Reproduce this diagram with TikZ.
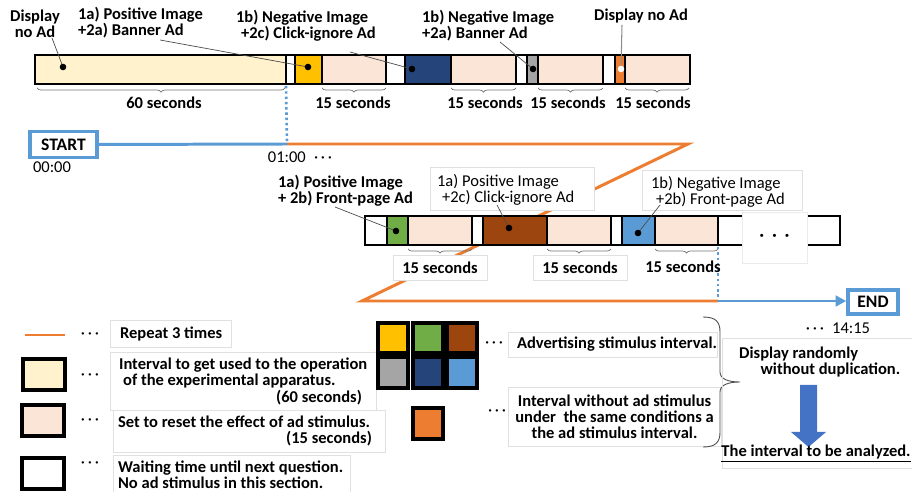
\documentclass[tikz,border=0pt]{standalone}
\usepackage{fontspec}
\setmainfont{Carlito}
\usetikzlibrary{arrows.meta,positioning,decorations.pathreplacing}
\definecolor{cream}{HTML}{FFF2CC}
\definecolor{rest}{HTML}{FBE5D6}
\definecolor{adgold}{HTML}{FFC000}
\definecolor{adnavy}{HTML}{24447A}
\definecolor{adgray}{HTML}{A5A5A5}
\definecolor{adorange}{HTML}{ED7D31}
\definecolor{adgreen}{HTML}{70AD47}
\definecolor{adbrown}{HTML}{9C450E}
\definecolor{adsky}{HTML}{5B9BD5}
\definecolor{tlblue}{HTML}{5B9BD5}
\definecolor{arrblue}{HTML}{4472C4}
\tikzset{
  seg/.style={draw=black, line width=1.6pt},
  swatch/.style={draw=black, line width=2pt},
  lead/.style={draw=black!70, line width=0.4pt},
  brc/.style={draw=black!55, line width=0.4pt, decorate, decoration={brace, mirror, amplitude=2.3pt}},
  lbl/.style={inner sep=1pt, align=left},
  tbox/.style={draw=black!12, fill=white, line width=0.5pt, inner ysep=2pt},
  frame/.style={draw=black!12, fill=white, line width=0.5pt},
  regtext/.style={font=\fontsize{9.4}{9.2}\selectfont\mdseries},
  tlbox/.style={draw=tlblue, line width=2pt, fill=white, inner sep=1pt, font=\fontsize{10}{10}\selectfont\bfseries},
  tline/.style={draw=tlblue, line width=1.7pt},
  rline/.style={draw=adorange, line width=1.7pt},
  tdots/.style={draw=tlblue, line width=1.5pt, dash pattern=on 1.4pt off 1.6pt}
}
\begin{document}
\begin{tikzpicture}[x=0.02cm, y=-0.02cm, font=\fontsize{9.4}{9.2}\selectfont\bfseries]
  \useasboundingbox (0,0) rectangle (912,492);
  % timeline: start, repeat, end
  \node[tlbox, minimum width=1.34cm, minimum height=0.52cm] (startbox) at (63.5,144.5) {START};
  \node[tlbox, minimum width=1cm, minimum height=0.48cm] (endbox) at (873,302) {END};
  \coordinate (c01) at (287,144);
  \coordinate (t60) at (286,86);
  \coordinate (r1) at (688,144);
  \coordinate (r2) at (362,301);
  \coordinate (rend) at (718,301);
  \coordinate (m15) at (718,247);
  \draw[rline] (c01) -- (r1) -- (r2) -- (rend);
  \draw[tline] (startbox.east) -- (c01);
  \draw[tline, -{Triangle[length=6pt,width=6pt]}] (rend) -- (endbox.west |- rend);
  \draw[tdots] (t60) -- (c01);
  \draw[tdots] (m15) -- (rend);
  \node[regtext] (t0) at (52,167) {00:00};
  \node[regtext] (t1) at (300,157) {01:00\enspace·\,·\,·};
  \node[regtext] (t2) at (838,328) {·\,·\,·\enspace14:15};

  % first bar
  \draw[seg, fill=cream] (35,55) rectangle (286,84);
  \draw[seg, fill=white] (286,55) rectangle (295,84);
  \draw[seg, fill=adgold] (295,55) rectangle (322,84);
  \draw[seg, fill=rest] (322,55) rectangle (386,84);
  \draw[seg, fill=white] (386,55) rectangle (405,84);
  \draw[seg, fill=adnavy] (405,55) rectangle (451,84);
  \draw[seg, fill=rest] (451,55) rectangle (516,84);
  \draw[seg, fill=white] (516,55) rectangle (527,84);
  \draw[seg, fill=adgray] (527,55) rectangle (538,84);
  \draw[seg, fill=rest] (538,55) rectangle (603,84);
  \draw[seg, fill=white] (603,55) rectangle (615,84);
  \draw[seg, fill=adorange] (615,55) rectangle (625,84);
  \draw[seg, fill=rest] (625,55) rectangle (690,84);
  \draw[brc] (37,88) -- (285,88);
  \draw[brc] (322,88) -- (386,88);
  \draw[brc] (451,88) -- (516,88);
  \draw[brc] (538,88) -- (603,88);
  \draw[brc] (625,88) -- (689,88);
  \node (s60) at (164,103) {60 seconds};
  \node (s15a) at (353,103) {15 seconds};
  \node (s15b) at (485,103) {15 seconds};
  \node (s15c) at (568,103) {15 seconds};
  \node (s15d) at (653,103) {15 seconds};
  \coordinate (d1) at (63,67);
  \coordinate (d2) at (308,67);
  \coordinate (d3) at (412,69);
  \coordinate (d4) at (533,69);
  \coordinate (d5) at (621,69);
  \node[lbl, align=center] (dispA) at (35,24) {Display\\no Ad};
  \node[lbl, anchor=west] (labPB) at (76,23) {1a) Positive Image\\+2a) Banner Ad};
  \node[lbl, anchor=west] (labNC) at (234,26) {1b) Negative Image\\\hspace*{0.3em}+2c) Click-ignore Ad};
  \node[lbl, anchor=west] (labNB) at (420,26) {1b) Negative Image\\+2a) Banner Ad};
  \node[lbl] (dispB) at (641,16) {Display no Ad};
  \coordinate (l1) at (52,38);
  \coordinate (l2) at (160,40);
  \coordinate (l3) at (350,52);
  \coordinate (l4) at (500,42);
  \coordinate (l5) at (622,25);
  \draw[lead] (l1) -- (d1);
  \draw[lead] (l2) -- (d2);
  \draw[lead] (l3) -- (d3);
  \draw[lead] (l4) -- (d4);
  \draw[draw=black!45, line width=0.6pt] (l5) -- (d5);
  \fill (d1) circle (3.3);
  \fill (d2) circle (3.3);
  \fill (d3) circle (3.3);
  \fill (d4) circle (3.3);
  \fill[white] (d5) circle (3.3);

  % second bar
  \draw[seg, fill=white] (365,216) rectangle (387,245);
  \draw[seg, fill=adgreen] (387,216) rectangle (408,245);
  \draw[seg, fill=rest] (408,216) rectangle (472,245);
  \draw[seg, fill=white] (472,216) rectangle (483,245);
  \draw[seg, fill=adbrown] (483,216) rectangle (547,245);
  \draw[seg, fill=rest] (547,216) rectangle (611,245);
  \draw[seg, fill=white] (611,216) rectangle (622,245);
  \draw[seg, fill=adsky] (622,216) rectangle (655,245);
  \draw[seg, fill=rest] (655,216) rectangle (718,245);
  \draw[seg, fill=white] (718,216) rectangle (840,245);
  \node[tbox, draw=black!8, minimum width=1.3cm, minimum height=1.02cm] (more) at (774.5,237.5) {·\enspace·\enspace·};
  \draw[brc] (408,249) -- (472,249);
  \draw[brc] (547,249) -- (611,249);
  \draw[brc] (655,249) -- (718,249);
  \node[tbox, minimum width=1.88cm, minimum height=0.5cm] (m15a) at (440,267.5) {15 seconds};
  \node[tbox, minimum width=1.88cm, minimum height=0.5cm] (m15b) at (580,267.5) {15 seconds};
  \node (m15c) at (683,267) {15 seconds};
  \coordinate (g1) at (396,231);
  \coordinate (g2) at (509,228);
  \coordinate (g3) at (638,233);
  \node[lbl, anchor=west] (labPF) at (276,191) {1a) Positive Image\\+ 2b) Front-page Ad};
  \draw[frame] (430,167) rectangle (594,210);
  \draw[frame] (642,170) rectangle (802,210);
  \node[lbl, regtext, anchor=north west] (labPC) at (435,172) {1a) Positive Image\\\hspace*{0.3em}+2c) Click-ignore Ad};
  \node[lbl, regtext, anchor=north west] (labNF) at (649,174) {1b) Negative Image\\\hspace*{0.3em}+2b) Front-page Ad};
  \coordinate (k1) at (335,207);
  \coordinate (k2) at (497,205);
  \coordinate (k3) at (660,205);
  \draw[lead] (k1) -- (g1);
  \draw[lead] (k2) -- (g2);
  \draw[lead] (k3) -- (g3);
  \fill (g1) circle (3.3);
  \fill (g2) circle (3.3);
  \fill (g3) circle (3.3);

  % legend
  \draw[rline] (25,335) -- (65,335);
  \draw[swatch, fill=cream] (23,359) rectangle (65,390);
  \draw[swatch, fill=rest] (22,405) rectangle (64,436);
  \draw[swatch, fill=white] (22,458) rectangle (64,489);
  \node[regtext] (e1) at (90,336) {·\,·\,·};
  \node[regtext] (e2) at (90,377) {·\,·\,·};
  \node[regtext] (e3) at (90,422) {·\,·\,·};
  \node[regtext] (e4) at (90,465) {·\,·\,·};
  \draw[frame] (110,320) rectangle (231,347);
  \draw[frame] (110,352) rectangle (376,410);
  \draw[frame] (113,410) rectangle (385,452);
  \draw[frame] (113,455) rectangle (350,497);
  \node[lbl, anchor=west] (lrep) at (118,333.5) {Repeat 3 times};
  \node[lbl, anchor=north west] (lgo) at (117,356) {Interval to get used to the operation\\\hspace*{0.25em}of the experimental apparatus.};
  \node[lbl, anchor=east] (lgo60) at (364,398) {(60 seconds)};
  \node[lbl, anchor=north west] (lrest) at (116,414) {Set to reset the effect of ad stimulus.};
  \node[lbl, anchor=east] (lrest15) at (374,439) {(15 seconds)};
  \node[lbl, anchor=north west] (lwait) at (116,459) {Waiting time until next question.\\No ad stimulus in this section.};
  \draw[swatch, fill=adgold] (378,323) rectangle (408,353);
  \draw[swatch, fill=adgreen] (413,323) rectangle (443,353);
  \draw[swatch, fill=adbrown] (447,323) rectangle (477,353);
  \draw[swatch, fill=adgray] (378,357) rectangle (408,388);
  \draw[swatch, fill=adnavy] (413,357) rectangle (443,388);
  \draw[swatch, fill=adsky] (447,357) rectangle (477,388);
  \draw[swatch, fill=adorange] (413,408) rectangle (443,439);
  \node[regtext] (e5) at (494,345) {·\,·\,·};
  \node[regtext] (e6) at (497,413) {·\,·\,·};
  \draw[frame] (508,332) rectangle (717,357);
  \draw[frame] (508,387) rectangle (721,446);
  \node[lbl, anchor=west] (ladv) at (515,344.5) {Advertising stimulus interval.};
  \node[lbl, align=center] (lnone) at (614.5,416.5) {Interval without ad stimulus\\under~~the same conditions a\\the ad stimulus interval.};
  % brace over both kinds of interval
  \draw[black!70, line width=0.5pt] (703,317) .. controls (716,317) and (720,322) .. (720,332) -- (720,372) .. controls (720,379) and (728,382) .. (740,382) .. controls (728,382) and (720,385) .. (720,392) -- (720,432) .. controls (720,442) and (716,447) .. (703,447);
  \draw[black!12, line width=0.5pt] (912,338) -- (722,338) -- (722,468) -- (912,468);
  \node[anchor=north west, align=left] (lrand) at (733,341) {Display randomly\\\hspace*{1.3em}without duplication.};
  \fill[arrblue] (800,385) -- (817,385) -- (817,432) -- (826,432) -- (808.5,447) -- (791,432) -- (800,432) -- cycle;
  \node (lana) at (816,454) {\underline{The interval to be analyzed.}};
\end{tikzpicture}
\end{document}
